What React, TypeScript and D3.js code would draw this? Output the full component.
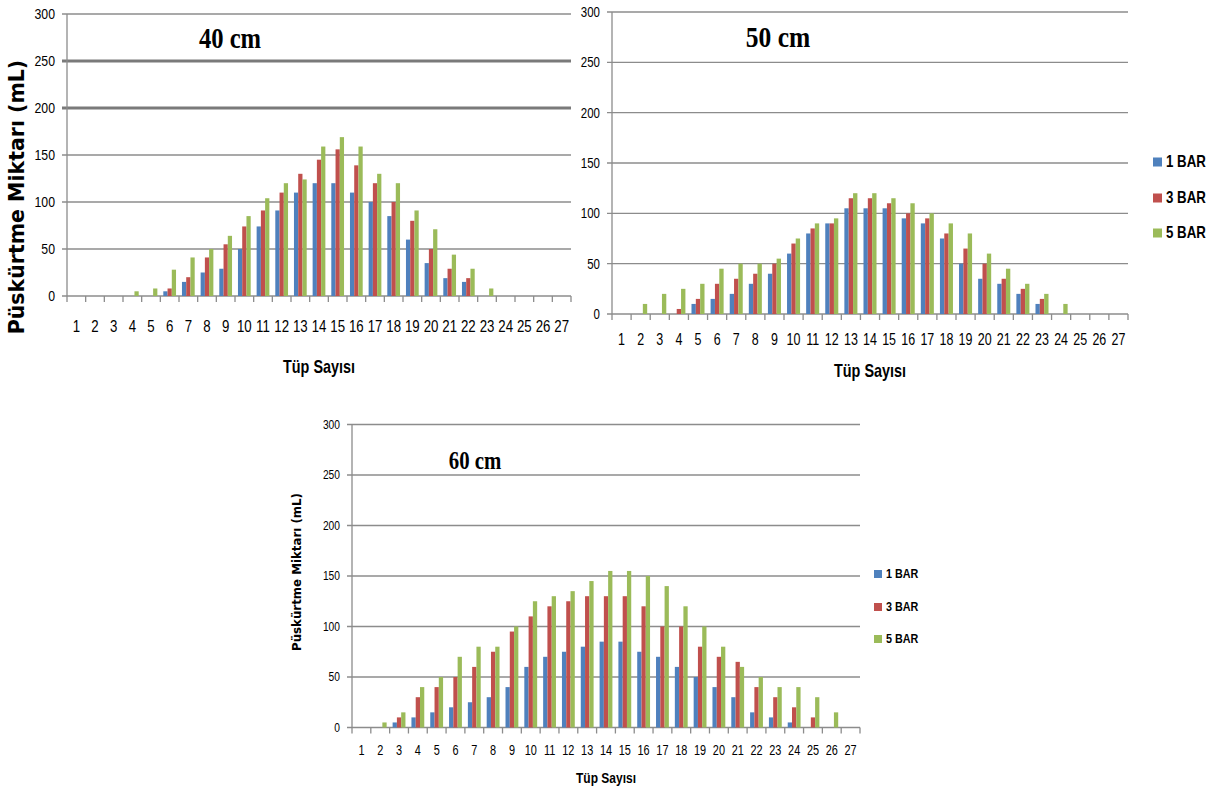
import React from "react";
import * as d3 from "d3";

// Tube numbers along the collector (x categories)
const TUBES = ["1","2","3","4","5","6","7","8","9","10","11","12","13","14","15","16","17","18","19","20","21","22","23","24","25","26","27"];
const SERIES = ["1 BAR", "3 BAR", "5 BAR"];
const COLORS = ["#4F81BD", "#C0504D", "#9BBB59"];
const Y_TICKS = [0, 50, 100, 150, 200, 250, 300];

// Spray amount (mL) per tube — nozzle height 40 cm
const H40_BAR1 = [0,0,0,0,0,5,15,25,29,50,74,91,110,120,120,110,100,85,60,35,19,15,0,0,0,0,0];
const H40_BAR3 = [0,0,0,0,0,8,20,41,55,74,91,110,130,145,156,139,120,100,80,50,29,19,0,0,0,0,0];
const H40_BAR5 = [0,0,0,5,8,28,41,50,64,85,104,120,124,159,169,159,130,120,91,71,44,29,8,0,0,0,0];

// Nozzle height 50 cm
const H50_BAR1 = [0,0,0,0,10,15,20,30,40,60,80,90,105,105,105,95,90,75,50,35,30,20,10,0,0,0,0];
const H50_BAR3 = [0,0,0,5,15,30,35,40,50,70,85,90,115,115,110,100,95,80,65,50,35,25,15,0,0,0,0];
const H50_BAR5 = [0,10,20,25,30,45,50,50,55,75,90,95,120,120,115,110,100,90,80,60,45,30,20,10,0,0,0];

// Nozzle height 60 cm
const H60_BAR1 = [0,0,5,10,15,20,25,30,40,60,70,75,80,85,85,75,70,60,50,40,30,15,10,5,0,0,0];
const H60_BAR3 = [0,0,10,30,40,50,60,75,95,110,120,125,130,130,130,120,100,100,80,70,65,40,30,20,10,0,0];
const H60_BAR5 = [0,5,15,40,50,70,80,80,100,125,130,135,145,155,155,150,140,120,100,80,60,50,40,40,30,15,0];

const Y_TITLE = "Püskürtme Miktarı (mL)";
const X_TITLE = "Tüp Sayısı";

const NUM_FONT = "'Liberation Sans', Arial, sans-serif";

type Panel = {
  title: string;
  series: number[][];
  left: number; right: number; top: number; bottom: number;
  yLabelRight: number; yLabelSize: number;
  xLabelY: number; xLabelSize: number;
  titleX: number; titleY: number; titleSize: number; titleScale: number;
  xTitleX: number; xTitleY: number; xTitleSize: number;
  yTitle?: { x: number; y: number; size: number };
  legend?: { x: number; ys: number[]; size: number; box: number };
  heavyTicks?: number[];
};

const PANELS: Panel[] = [
  {
    title: "40 cm", series: [H40_BAR1, H40_BAR3, H40_BAR5],
    left: 67, right: 571, top: 14, bottom: 296,
    yLabelRight: 55, yLabelSize: 15, xLabelY: 326, xLabelSize: 17,
    titleX: 230, titleY: 48, titleSize: 30, titleScale: 0.82,
    xTitleX: 319, xTitleY: 366, xTitleSize: 18,
    yTitle: { x: 17, y: 197, size: 20.5 },
    heavyTicks: [200, 250],
  },
  {
    title: "50 cm", series: [H50_BAR1, H50_BAR3, H50_BAR5],
    left: 612, right: 1128, top: 12, bottom: 314,
    yLabelRight: 600, yLabelSize: 14, xLabelY: 339, xLabelSize: 16,
    titleX: 778, titleY: 47, titleSize: 30, titleScale: 0.85,
    xTitleX: 870, xTitleY: 370, xTitleSize: 18,
    legend: { x: 1153, ys: [162, 198, 233], size: 16, box: 9 },
  },
  {
    title: "60 cm", series: [H60_BAR1, H60_BAR3, H60_BAR5],
    left: 352, right: 860, top: 424.5, bottom: 727.5,
    yLabelRight: 340, yLabelSize: 12.5, xLabelY: 751, xLabelSize: 14,
    titleX: 475, titleY: 469, titleSize: 26, titleScale: 0.8,
    xTitleX: 606, xTitleY: 778, xTitleSize: 15,
    yTitle: { x: 297, y: 572, size: 11.8 },
    legend: { x: 874, ys: [574, 607, 639], size: 13, box: 8 },
  },
];

const GRID = "#8c8c8c";

function Condensed(props: { x: number; y: number; sx: number; size: number; anchor: string; bold?: boolean; family?: string; children: string }) {
  const { x, y, sx, size, anchor, bold, family, children } = props;
  return (
    <text
      transform={`translate(${x},${y}) scale(${sx},1)`}
      fontSize={size}
      fontFamily={family || NUM_FONT}
      fontWeight={bold ? "bold" : "normal"}
      textAnchor={anchor}
      dominantBaseline="central"
      fill="#000"
    >
      {children}
    </text>
  );
}

function ChartPanel({ p }: { p: Panel }) {
  const x0 = d3.scaleBand<string>().domain(TUBES).range([p.left, p.right]).paddingInner(0.318).paddingOuter(0.159);
  const x1 = d3.scaleBand<string>().domain(SERIES).range([0, x0.bandwidth()]);
  const y = d3.scaleLinear().domain([0, 300]).range([p.bottom, p.top]);
  const step = x0.step();

  return (
    <g>
      {/* horizontal gridlines with left tick marks */}
      {Y_TICKS.map((t) => {
        const heavy = p.heavyTicks && p.heavyTicks.includes(t);
        return (
          <line key={"g" + t} x1={p.left - 5} x2={p.right} y1={y(t)} y2={y(t)}
            stroke={heavy ? "#7a7a7a" : GRID} strokeWidth={heavy ? 3 : 1.3} />
        );
      })}
      {/* value axis */}
      <line x1={p.left} x2={p.left} y1={p.top} y2={p.bottom} stroke={GRID} strokeWidth={1.3} />
      {/* category tick marks */}
      {d3.range(TUBES.length + 1).map((i) => (
        <line key={"t" + i} x1={p.left + i * step} x2={p.left + i * step} y1={p.bottom} y2={p.bottom + 6}
          stroke={GRID} strokeWidth={1.3} />
      ))}
      {/* bars */}
      {p.series.map((vals, si) =>
        vals.map((v, i) => {
          if (v <= 0) return null;
          const bx = (x0(TUBES[i]) as number) + (x1(SERIES[si]) as number);
          return (
            <rect key={si + "-" + i} x={bx} y={y(v)} width={x1.bandwidth()} height={y(0) - y(v)} fill={COLORS[si]} />
          );
        })
      )}
      {/* y tick labels */}
      {Y_TICKS.map((t) => (
        <Condensed key={"yl" + t} x={p.yLabelRight} y={y(t)} sx={0.82} size={p.yLabelSize} anchor="end">{String(t)}</Condensed>
      ))}
      {/* x tick labels */}
      {TUBES.map((c) => (
        <Condensed key={"xl" + c} x={(x0(c) as number) + x0.bandwidth() / 2} y={p.xLabelY} sx={0.78} size={p.xLabelSize} anchor="middle">{c}</Condensed>
      ))}
      {/* panel title */}
      <text transform={`translate(${p.titleX},${p.titleY}) scale(${p.titleScale},1)`} fontSize={p.titleSize}
        fontFamily="'Liberation Serif', 'Times New Roman', serif" fontWeight="bold" textAnchor="middle" fill="#000">
        {p.title}
      </text>
      {/* axis titles */}
      <Condensed x={p.xTitleX} y={p.xTitleY} sx={0.8} size={p.xTitleSize} anchor="middle" bold>{X_TITLE}</Condensed>
      {p.yTitle && (
        <text transform={`translate(${p.yTitle.x},${p.yTitle.y}) rotate(-90)`} fontSize={p.yTitle.size}
          fontFamily="'DejaVu Sans', Verdana, sans-serif" fontWeight="bold" textAnchor="middle" dominantBaseline="central" fill="#000">
          {Y_TITLE}
        </text>
      )}
      {/* legend */}
      {p.legend && SERIES.map((s, i) => (
        <g key={"lg" + s}>
          <rect x={p.legend!.x} y={p.legend!.ys[i] - p.legend!.box / 2} width={p.legend!.box} height={p.legend!.box} fill={COLORS[i]} />
          <Condensed x={p.legend!.x + p.legend!.box + 4} y={p.legend!.ys[i]} sx={0.83} size={p.legend!.size} anchor="start" bold>{s}</Condensed>
        </g>
      ))}
    </g>
  );
}

export default function App() {
  return (
    <svg width={1231} height={792} style={{ position: "absolute", left: 0, top: 0, background: "#fff" }}>
      <rect width={1231} height={792} fill="#fff" />
      {PANELS.map((p) => (
        <ChartPanel key={p.title} p={p} />
      ))}
    </svg>
  );
}
